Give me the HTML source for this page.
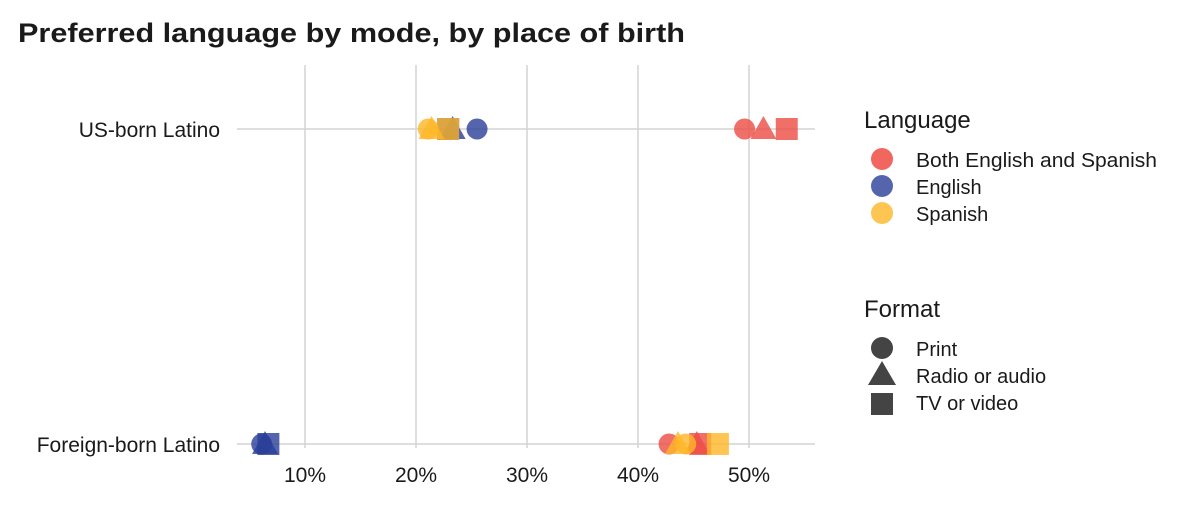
<!DOCTYPE html>
<html><head><meta charset="utf-8"><style>
body{margin:0;background:#fff;width:1190px;height:510px;overflow:hidden;font-family:"Liberation Sans",sans-serif}
svg text{font-family:"Liberation Sans",sans-serif}
</style></head><body>
<svg id="c" width="1190" height="510" xmlns="http://www.w3.org/2000/svg">
<text x="18" y="42" font-size="27" font-weight="bold" fill="#1a1a1a" textLength="667" lengthAdjust="spacingAndGlyphs">Preferred language by mode, by place of birth</text>
<g id="grid"></g><g id="marks"></g>
<g>
<text x="864" y="128" font-size="24" fill="#1a1a1a">Language</text>
<circle cx="882" cy="159" r="11" fill="#EE4B43" fill-opacity="0.85"/>
<text x="916" y="167" font-size="20" fill="#1a1a1a" textLength="241" lengthAdjust="spacingAndGlyphs">Both English and Spanish</text>
<circle cx="882" cy="186" r="11" fill="#2A3F98" fill-opacity="0.8"/>
<text x="916" y="194" font-size="20" fill="#1a1a1a">English</text>
<circle cx="882" cy="213" r="11" fill="#FFB627" fill-opacity="0.8"/>
<text x="916" y="221" font-size="20" fill="#1a1a1a">Spanish</text>
<text x="864" y="317" font-size="24" fill="#1a1a1a">Format</text>
<circle cx="882" cy="348" r="11" fill="#444"/>
<text x="916" y="356" font-size="20" fill="#1a1a1a">Print</text>
<polygon points="882,361 896,385 868,385" fill="#444"/>
<text x="916" y="383" font-size="20" fill="#1a1a1a">Radio or audio</text>
<rect x="871" y="393" width="22" height="22" fill="#444"/>
<text x="916" y="410" font-size="20" fill="#1a1a1a">TV or video</text>
</g>
</svg>
<script>
const categories=["US-born Latino","Foreign-born Latino"];
const languages=["Both English and Spanish","English","Spanish"];
const formats=["Print","Radio or audio","TV or video"];
// values[category][language][format]
const usBoth=[49.6,51.3,53.4];
const usEnglish=[25.5,23.3,22.9];
const usSpanish=[21.1,21.4,22.9];
const fbBoth=[42.8,45.3,45.6];
const fbEnglish=[6.1,6.4,6.7];
const fbSpanish=[44.3,43.6,47.2];
const xTicks=[10,20,30,40,50];
const tickLabels=["10%","20%","30%","40%","50%"];
const values=[[usBoth,usEnglish,usSpanish],[fbBoth,fbEnglish,fbSpanish]];
const colors=["#EE4B43","#2A3F98","#FFB627"];
const xs=v=>305+(v-10)*11.1;
const ys=i=>[129,444][i];
const NS="http://www.w3.org/2000/svg";
const grid=document.getElementById('grid'),marks=document.getElementById('marks');
function mk(tag,attrs,parent){const e=document.createElementNS(NS,tag);for(const k in attrs)e.setAttribute(k,attrs[k]);parent.appendChild(e);return e;}
xTicks.forEach((t,i)=>{
 const l=mk('line',{x1:xs(t),x2:xs(t),y1:65,y2:448,stroke:'#d4d4d4','stroke-width':1.5},grid);
 
 
 const tx=mk('text',{x:xs(t),y:482,'font-size':21,'text-anchor':'middle',fill:'#1a1a1a'},grid);
 tx.textContent=tickLabels[i];
 
 
});
categories.forEach((c,i)=>{
 const l=mk('line',{x1:237,x2:815,y1:ys(i),y2:ys(i),stroke:'#d4d4d4','stroke-width':1.5},grid);
 
 
 const tx=mk('text',{x:220,y:ys(i)+8,'font-size':21,'text-anchor':'end',fill:'#1a1a1a'},grid);
 tx.textContent=c;
 
 
});
categories.forEach((c,ci)=>{
 languages.forEach((lang,li)=>{
  formats.forEach((f,fi)=>{
   const x=xs(values[ci][li][fi]),y=ys(ci);let e;
   const st={fill:colors[li],'fill-opacity':0.8};
   if(fi===0) e=mk('circle',Object.assign({cx:x,cy:y,r:10.5},st),marks);
   else if(fi===1) e=mk('polygon',Object.assign({points:`${x},${y-13} ${x+13},${y+10} ${x-13},${y+10}`},st),marks);
   else e=mk('rect',Object.assign({x:x-11,y:y-11,width:22,height:22},st),marks);
   
   
  });
 });
});
</script>
</body></html>
